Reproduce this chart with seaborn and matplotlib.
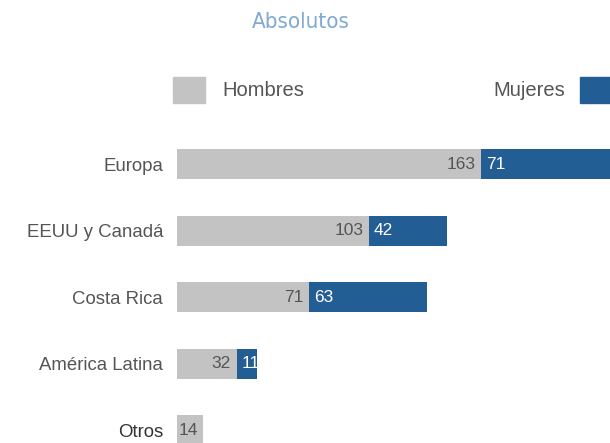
import matplotlib
matplotlib.use("Agg")
import matplotlib.pyplot as plt
import seaborn as sns
import pandas as pd
from matplotlib.patches import Rectangle
from matplotlib import font_manager

categories = ["Europa", "EEUU y Canadá", "Costa Rica", "América Latina", "Otros"]
hombres = [163, 103, 71, 32, 14]
mujeres = [71, 42, 63, 11, 0]

gray = "#c3c3c3"
blue = "#225d94"
txt = "#555555"

sns.set_theme(style="white")
plt.rcParams['font.family'] = ['Liberation Sans', 'DejaVu Sans']

# find a condensed regular face for the title if one is installed
def is_cond(f):
    return (str(f.stretch) in ('condensed', 'semi-condensed', 'extra-condensed', 'ultra-condensed')
            or (isinstance(f.stretch, int) and f.stretch < 500)
            or 'Condensed' in f.name or 'Narrow' in f.name
            or 'Condensed' in f.fname)

cond = [f for f in font_manager.fontManager.ttflist
        if is_cond(f) and f.style == 'normal' and f.weight in (300, 400, 'normal', 'regular', 'light')
        and 'Bold' not in f.fname]
if cond:
    tf = cond[0]
    title_kw = dict(fontproperties=font_manager.FontProperties(fname=tf.fname, size=16))
else:
    title_kw = dict(family=['DejaVu Sans'], fontsize=14)

df = pd.DataFrame({"cat": categories, "h": hombres, "m": mujeres})
df["total"] = df["h"] + df["m"]

fig = plt.figure(figsize=(6.1, 4.43), dpi=100)
ax = fig.add_axes([177/610, 0, 1 - 177/610, (443 - 131)/443])

sns.barplot(data=df, y="cat", x="total", color=blue, orient="h", width=0.45,
            saturation=1, ax=ax, linewidth=0)
sns.barplot(data=df, y="cat", x="h", color=gray, orient="h", width=0.45,
            saturation=1, ax=ax, linewidth=0)

ax.set_xlim(0, (610 - 177) / 1.865)
ax.set_ylim(4 + 13/66.5, -0.5)
ax.set_xlabel("")
ax.set_ylabel("")
ax.set_xticks([])
for s in ax.spines.values():
    s.set_visible(False)
ax.tick_params(axis="y", length=0, pad=10, labelsize=13.4, labelcolor=txt)
for lab in ax.get_yticklabels():
    if lab.get_text() == "Otros":
        lab.set_color("#333333")

for i, (h, m) in enumerate(zip(hombres, mujeres)):
    ax.text(h - 3, i, str(h), ha="right", va="center", fontsize=12.5, color=txt)
    if m > 0:
        ax.text(h + 2.5, i, str(m), ha="left", va="center", fontsize=12.5, color="white")

# Legend
fig.patches.append(Rectangle((173/610, 1 - 103/443), 32/610, 26/443,
                             transform=fig.transFigure, color=gray, zorder=5))
fig.text(222/610, 1 - 90/443, "Hombres", ha="left", va="center", fontsize=14.5, color=txt)
fig.patches.append(Rectangle((580/610, 1 - 103/443), 32/610, 26/443,
                             transform=fig.transFigure, color=blue, zorder=5))
fig.text(565/610, 1 - 90/443, "Mujeres", ha="right", va="center", fontsize=14.5, color=txt)

# Title
fig.text(301/610, 1 - 22/443, "Absolutos", ha="center", va="center",
         color="#80aad3", **title_kw)

fig.savefig("out.png", dpi=100)
